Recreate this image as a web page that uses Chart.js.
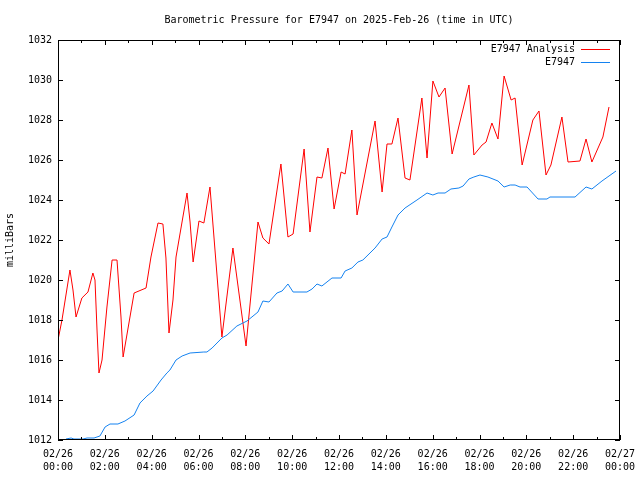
<!DOCTYPE html>
<html>
<head>
<meta charset="utf-8">
<script src="https://cdn.jsdelivr.net/npm/chart.js@4.4.0/dist/chart.umd.min.js"></script>
<style>
  html, body { margin: 0; padding: 0; background: #fff; }
</style>
</head>
<body>
<canvas id="pressureChart" width="640" height="480"></canvas>
<script>
// Hours since 02/26 00:00 UTC
const analysisHours = [0.0, 0.17, 0.51, 0.64, 0.77, 1.02, 1.28, 1.49, 1.58, 1.67, 1.75, 1.88, 2.09, 2.31, 2.52, 2.69, 2.78, 3.25, 3.76, 3.97, 4.27, 4.48, 4.61, 4.74, 4.91, 5.04, 5.51, 5.64, 5.77, 6.02, 6.23, 6.49, 7.0, 7.47, 8.03, 8.54, 8.75, 9.01, 9.52, 9.82, 10.04, 10.51, 10.76, 11.06, 11.27, 11.53, 11.79, 12.09, 12.26, 12.55, 12.77, 13.54, 13.84, 14.05, 14.26, 14.52, 14.82, 15.03, 15.54, 15.76, 16.01, 16.27, 16.53, 16.83, 17.55, 17.76, 18.11, 18.28, 18.53, 18.79, 19.05, 19.35, 19.52, 19.82, 20.28, 20.54, 20.84, 21.05, 21.52, 21.78, 22.29, 22.55, 22.8, 23.27, 23.53];
const analysisValues = [1017.0, 1018.0, 1020.5, 1019.5, 1018.15, 1019.1, 1019.4, 1020.35, 1020.0, 1017.4, 1015.35, 1016.0, 1018.65, 1021.0, 1021.0, 1018.15, 1016.15, 1019.35, 1019.6, 1021.15, 1022.85, 1022.8, 1021.1, 1017.35, 1019.0, 1021.15, 1024.35, 1022.9, 1020.9, 1022.95, 1022.85, 1024.65, 1017.15, 1021.6, 1016.7, 1022.9, 1022.1, 1021.8, 1025.8, 1022.15, 1022.3, 1026.55, 1022.4, 1025.15, 1025.1, 1026.6, 1023.55, 1025.4, 1025.3, 1027.5, 1023.25, 1027.95, 1024.4, 1026.8, 1026.8, 1028.1, 1025.1, 1025.0, 1029.1, 1026.1, 1029.95, 1029.15, 1029.6, 1026.3, 1029.75, 1026.25, 1026.75, 1026.9, 1027.85, 1027.05, 1030.2, 1029.0, 1029.1, 1025.75, 1028.0, 1028.45, 1025.25, 1025.75, 1028.15, 1025.9, 1025.95, 1027.05, 1025.9, 1027.15, 1028.65];

const stationHours = [0.34, 0.56, 0.68, 1.07, 1.24, 1.54, 1.79, 2.01, 2.22, 2.56, 2.86, 3.25, 3.5, 3.8, 4.06, 4.4, 4.65, 4.78, 5.04, 5.3, 5.64, 6.23, 6.36, 6.58, 7.0, 7.22, 7.64, 8.07, 8.54, 8.75, 9.01, 9.35, 9.57, 9.82, 10.04, 10.63, 10.85, 11.06, 11.27, 11.7, 12.09, 12.26, 12.55, 12.81, 13.02, 13.54, 13.84, 14.05, 14.26, 14.52, 14.82, 15.33, 15.76, 16.01, 16.23, 16.53, 16.78, 17.12, 17.3, 17.55, 17.76, 18.02, 18.36, 18.79, 19.05, 19.31, 19.52, 19.73, 20.03, 20.5, 20.88, 21.01, 22.08, 22.55, 22.8, 23.23, 23.83];
const stationValues = [1012.05, 1012.1, 1012.05, 1012.05, 1012.1, 1012.1, 1012.2, 1012.65, 1012.8, 1012.8, 1012.95, 1013.25, 1013.85, 1014.2, 1014.45, 1015.0, 1015.35, 1015.5, 1016.0, 1016.2, 1016.35, 1016.4, 1016.4, 1016.6, 1017.1, 1017.25, 1017.7, 1017.95, 1018.4, 1018.95, 1018.9, 1019.35, 1019.45, 1019.8, 1019.4, 1019.4, 1019.55, 1019.8, 1019.7, 1020.1, 1020.1, 1020.45, 1020.6, 1020.9, 1021.0, 1021.6, 1022.05, 1022.15, 1022.65, 1023.25, 1023.6, 1024.0, 1024.35, 1024.25, 1024.35, 1024.35, 1024.55, 1024.6, 1024.7, 1025.05, 1025.15, 1025.25, 1025.15, 1024.95, 1024.65, 1024.75, 1024.75, 1024.65, 1024.65, 1024.05, 1024.05, 1024.15, 1024.15, 1024.65, 1024.55, 1024.95, 1025.45];

const xTickDates = ["02/26", "02/26", "02/26", "02/26", "02/26", "02/26", "02/26", "02/26", "02/26", "02/26", "02/26", "02/26", "02/27"];
const xTickTimes = ["00:00", "02:00", "04:00", "06:00", "08:00", "10:00", "12:00", "14:00", "16:00", "18:00", "20:00", "22:00", "00:00"];

const FONT = "DejaVu Sans Mono";
const RED = "#ff0000";
const BLUE = "#1482f0";

const toPoints = (xs, ys) => xs.map((h, i) => ({ x: h, y: ys[i] }));

// gnuplot-ish frame, inward ticks, title, legend, y label
const gnuplotFrame = {
  id: "gnuplotFrame",
  afterDraw(chart) {
    const { ctx, chartArea: a, scales } = chart;
    const x = scales.x, y = scales.y;
    ctx.save();
    ctx.strokeStyle = "#000";
    ctx.lineWidth = 1;
    ctx.strokeRect(a.left + 0.5, a.top + 0.5, a.right - a.left - 1, a.bottom - a.top - 1);

    ctx.beginPath();
    for (let h = 0; h <= 24; h++) {
      const px = Math.round(x.getPixelForValue(h)) + 0.5;
      const len = h % 2 === 0 ? 5 : 3;
      ctx.moveTo(px, a.bottom);
      ctx.lineTo(px, a.bottom - len);
      ctx.moveTo(px, a.top);
      ctx.lineTo(px, a.top + len);
    }
    for (let v = 1012; v <= 1032; v += 2) {
      const py = Math.round(y.getPixelForValue(v)) + 0.5;
      ctx.moveTo(a.left, py);
      ctx.lineTo(a.left + 5, py);
      ctx.moveTo(a.right, py);
      ctx.lineTo(a.right - 5, py);
    }
    ctx.stroke();

    ctx.fillStyle = "#000";
    ctx.font = "10px '" + FONT + "'";
    ctx.textBaseline = "middle";

    ctx.textAlign = "center";
    ctx.fillText("Barometric Pressure for E7947 on 2025-Feb-26 (time in UTC)", (a.left + a.right) / 2, 20);

    // legend
    ctx.textAlign = "right";
    ctx.fillText("E7947 Analysis", 575, 49);
    ctx.fillText("E7947", 575, 62);
    ctx.beginPath();
    ctx.strokeStyle = RED;
    ctx.moveTo(581, 49.5);
    ctx.lineTo(610, 49.5);
    ctx.stroke();
    ctx.beginPath();
    ctx.strokeStyle = BLUE;
    ctx.moveTo(581, 62.5);
    ctx.lineTo(610, 62.5);
    ctx.stroke();

    ctx.translate(10, (a.top + a.bottom) / 2);
    ctx.rotate(-Math.PI / 2);
    ctx.textAlign = "center";
    ctx.fillText("milliBars", 0, 0);
    ctx.restore();
  }
};

new Chart(document.getElementById("pressureChart"), {
  type: "line",
  data: {
    datasets: [
      {
        label: "E7947 Analysis",
        data: toPoints(analysisHours, analysisValues),
        borderColor: RED,
        borderWidth: 1,
        pointRadius: 0,
        tension: 0,
        order: 2
      },
      {
        label: "E7947",
        data: toPoints(stationHours, stationValues),
        borderColor: BLUE,
        borderWidth: 1,
        pointRadius: 0,
        tension: 0,
        order: 1
      }
    ]
  },
  options: {
    responsive: false,
    animation: false,
    layout: { padding: { top: 40, right: 20, left: 0, bottom: 0 } },
    plugins: { legend: { display: false }, title: { display: false }, tooltip: { enabled: false } },
    scales: {
      x: {
        type: "linear",
        min: 0,
        max: 24,
        afterFit: s => { s.height = 40; s.paddingLeft = 0; s.paddingRight = 0; },
        grid: { display: false, drawTicks: false },
        border: { display: false },
        ticks: {
          stepSize: 2,
          padding: 8,
          maxRotation: 0,
          autoSkip: false,
          color: "#000",
          font: { family: FONT, size: 10, lineHeight: 1.3 },
          callback: v => [xTickDates[v / 2], xTickTimes[v / 2]]
        }
      },
      y: {
        min: 1012,
        max: 1032,
        afterFit: s => { s.width = 58; s.paddingTop = 0; s.paddingBottom = 0; },
        grid: { display: false, drawTicks: false },
        border: { display: false },
        ticks: {
          stepSize: 2,
          padding: 6,
          color: "#000",
          font: { family: FONT, size: 10 },
          callback: v => String(v)
        }
      }
    }
  },
  plugins: [gnuplotFrame]
});
</script>
</body>
</html>
